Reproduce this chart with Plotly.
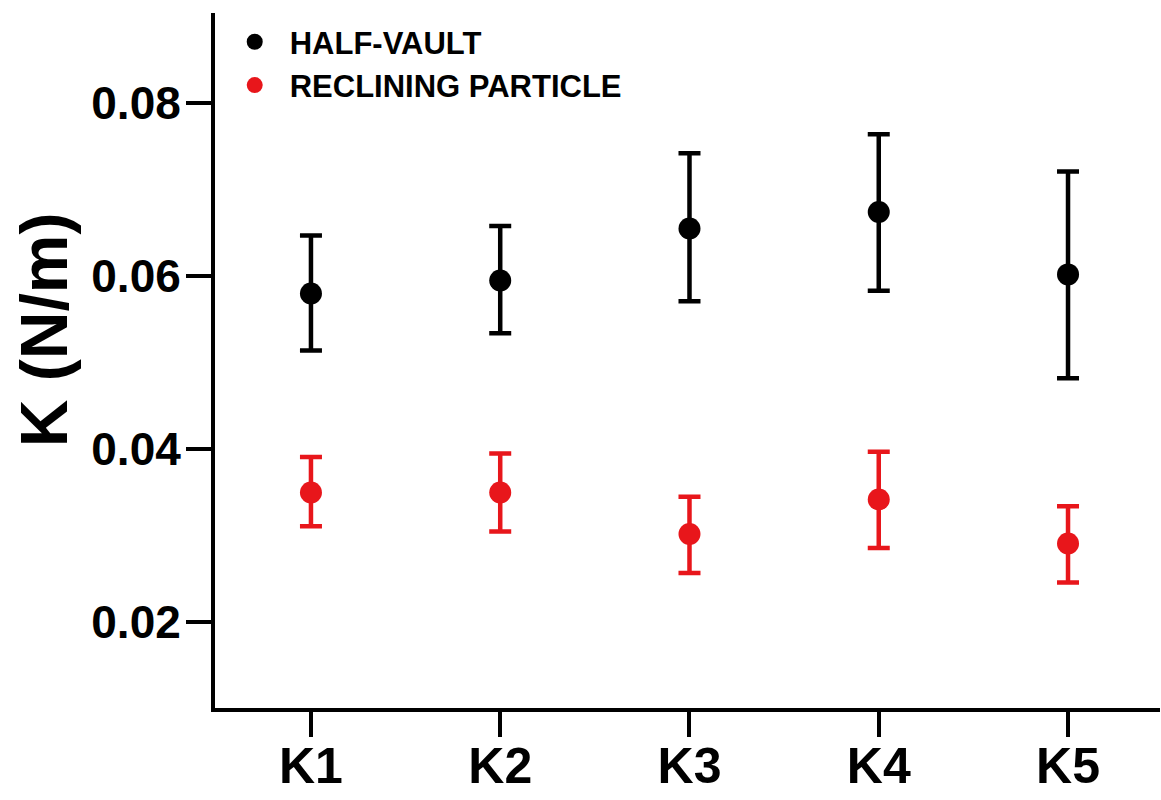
import plotly.graph_objects as go

categories = ["K1", "K2", "K3", "K4", "K5"]

half_vault = [0.0580, 0.0595, 0.0655, 0.0674, 0.0602]
half_vault_plus = [0.0067, 0.0063, 0.0087, 0.0090, 0.0119]
half_vault_minus = [0.0066, 0.0061, 0.0084, 0.0091, 0.0120]

reclining = [0.0350, 0.0350, 0.0302, 0.0342, 0.0291]
reclining_plus = [0.0041, 0.0045, 0.0043, 0.0055, 0.0043]
reclining_minus = [0.0039, 0.0045, 0.0045, 0.0056, 0.0045]

y_ticks = [0.02, 0.04, 0.06, 0.08]
y_tick_labels = ["0.02", "0.04", "0.06", "0.08"]

FONT = "Liberation Sans, Arial, sans-serif"
RED = "#e8161b"

fig = go.Figure()
fig.add_trace(go.Scatter(
    x=categories, y=half_vault, mode="markers", name="HALF-VAULT",
    marker=dict(color="black", size=22, symbol="circle"),
    error_y=dict(type="data", symmetric=False, array=half_vault_plus,
                 arrayminus=half_vault_minus, color="black", thickness=4.5, width=11),
))
fig.add_trace(go.Scatter(
    x=categories, y=reclining, mode="markers", name="RECLINING PARTICLE",
    marker=dict(color=RED, size=22, symbol="circle"),
    error_y=dict(type="data", symmetric=False, array=reclining_plus,
                 arrayminus=reclining_minus, color=RED, thickness=4.5, width=11),
))

fig.update_layout(
    width=1161, height=800,
    margin=dict(l=215, r=1, t=13, b=92, autoexpand=False),
    paper_bgcolor="white", plot_bgcolor="white",
    showlegend=True,
    legend=dict(
        x=0.005, y=0.997, xanchor="left", yanchor="top",
        font=dict(family=FONT, size=31, color="black", weight="bold"),
        bgcolor="rgba(0,0,0,0)", itemsizing="trace", itemwidth=60,
    ),
    xaxis=dict(
        type="category", categoryorder="array", categoryarray=categories,
        range=[-0.507, 4.486], automargin=False,
        showline=True, linecolor="black", linewidth=4,
        ticks="outside", ticklen=25, tickwidth=4, tickcolor="black",
        ticklabelstandoff=-14,
        tickfont=dict(family=FONT, size=50, color="black", weight="bold"),
        showgrid=False, zeroline=False,
    ),
    yaxis=dict(
        range=[0.0101, 0.0904], automargin=False,
        tickvals=y_ticks, ticktext=y_tick_labels,
        showline=True, linecolor="black", linewidth=4,
        ticks="outside", ticklen=25, tickwidth=4, tickcolor="black",
        ticklabelstandoff=-4,
        tickfont=dict(family=FONT, size=46, color="black", weight="bold"),
        showgrid=False, zeroline=False,
    ),
    annotations=[dict(
        text="K (N/m)", textangle=-90, xref="paper", yref="paper",
        x=-0.181, y=0.545, xanchor="center", yanchor="middle", showarrow=False,
        font=dict(family=FONT, size=66, color="black", weight="bold"),
    )],
)

fig.write_html("out.html")
